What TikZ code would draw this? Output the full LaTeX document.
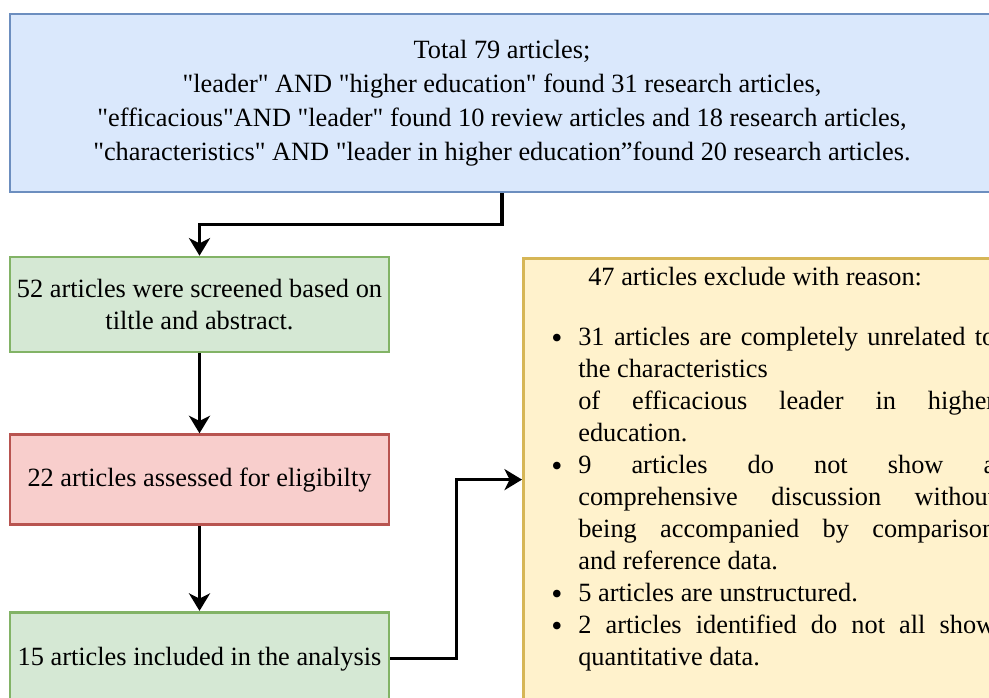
\documentclass[tikz,border=0pt]{standalone}
\usepackage{fontspec}
\setmainfont{Liberation Serif}
\usetikzlibrary{arrows.meta, positioning}

\definecolor{srchfill}{HTML}{DAE8FC}
\definecolor{srchline}{HTML}{6C8EBF}
\definecolor{keepfill}{HTML}{D5E8D4}
\definecolor{keepline}{HTML}{82B366}
\definecolor{elgfill}{HTML}{F8CECC}
\definecolor{elgline}{HTML}{B85450}
\definecolor{exfill}{HTML}{FFF2CC}
\definecolor{exline}{HTML}{D6B656}

\newcommand{\q}{\textquotedbl}
\newcommand{\exbul}{\hspace*{0.56cm}\makebox[0.54cm][l]{\raisebox{-1.6pt}{\fontsize{18}{18}\selectfont\textbullet}}}
\newcommand{\exind}{\hspace*{1.1cm}}
\newcommand{\exjust}[1]{\makebox[8.34cm][s]{#1}}

\begin{document}
\begin{tikzpicture}[
    x=0.02cm, y=0.02cm,
    srch/.style={draw=srchline, fill=srchfill, line width=1.5pt, minimum width=19.68cm,
                 minimum height=3.56cm, align=center, font=\fontsize{15}{19.3}\selectfont},
    keep/.style={draw=keepline, fill=keepfill, line width=1.5pt, minimum width=7.58cm,
                 inner xsep=1pt, align=center, font=\fontsize{15}{18.2}\selectfont},
    elg/.style={keep, draw=elgline, fill=elgfill},
    excl/.style={draw=exline, fill=exfill, line width=1.5pt, inner sep=0pt,
                 font=\fontsize{15}{18.2}\selectfont},
    arr/.style={-{Stealth[length=10pt, width=12pt, inset=3pt]}, line width=1.8pt}
]
\useasboundingbox (0,0) rectangle (989,-697);
\clip (0,0) rectangle (989,-697);

\node[srch] (search) at (502,-103) {Total 79 articles;\\
    \q leader\q{} AND \q higher education\q{} found 31 research articles,\\
    \q efficacious\q AND \q leader\q{} found 10 review articles and 18 research articles,\\
    \q characteristics\q{} AND \q leader in higher education”found 20 research articles.};
\node[keep, minimum height=1.9cm] (screen) at (199.5,-304.5)
    {52 articles were screened based on\\ tiltle and abstract.};
\node[elg, minimum height=1.8cm, below=1.6cm of screen] (elig)
    {22 articles assessed for eligibilty};
\node[keep, minimum height=1.86cm, below=1.7cm of elig] (incl)
    {15 articles included in the analysis};
\node[excl, anchor=north west] (excl) at (522,-257) {%
  \begin{minipage}[t][9.26cm][t]{9.76cm}
  \vspace*{3pt}
  \hspace*{1.3cm}\strut 47 articles exclude with reason:\par
  \vspace{15.8pt}
  \exbul\exjust{31 articles are completely unrelated to}\par
  \exind the characteristics\par
  \exind\exjust{of efficacious leader in higher}\par
  \exind education.\par
  \exbul\exjust{9 articles do not show a}\par
  \exind\exjust{comprehensive discussion without}\par
  \exind\exjust{being accompanied by comparison}\par
  \exind and reference data.\par
  \exbul 5 articles are unstructured.\par
  \exbul\exjust{2 articles identified do not all show}\par
  \exind quantitative data.\par
  \end{minipage}};

\draw[arr] (search.south) -- ++(0,-31) -| (screen.north);
\draw[arr] (screen) -- (elig);
\draw[arr] (elig) -- (incl);
\draw[arr] (incl.east) -- ++(66,0) |- (excl.west |- elig);
\end{tikzpicture}
\end{document}
